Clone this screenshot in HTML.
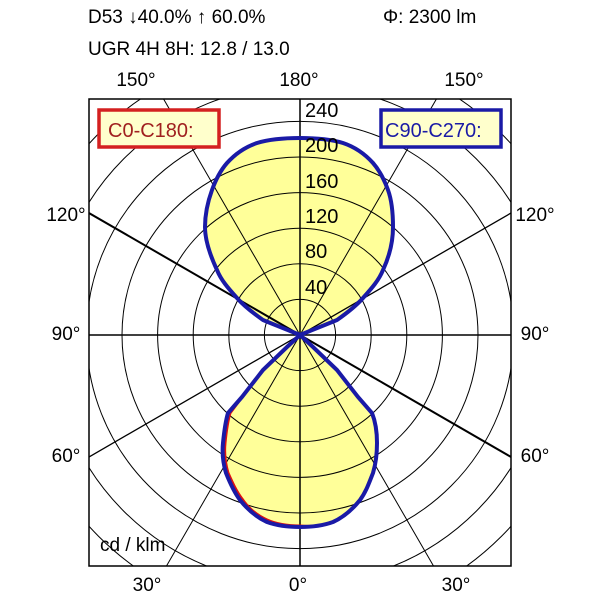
<!DOCTYPE html>
<html><head><meta charset="utf-8"><style>
html,body{margin:0;padding:0;background:#fff;width:600px;height:600px;overflow:hidden;}
svg{display:block;font-family:"Liberation Sans",sans-serif;}
</style></head><body>
<svg width="600" height="600" viewBox="0 0 600 600">
<defs><clipPath id="c"><rect x="89" y="99" width="422" height="467"/></clipPath></defs>
<text x="88" y="23" font-size="19">D53 ↓40.0% ↑ 60.0%</text>
<text x="383" y="23" font-size="19">Φ: 2300 lm</text>
<text x="88" y="55" font-size="19">UGR 4H 8H: 12.8 / 13.0</text>
<g font-size="19" text-anchor="middle">
<text x="136" y="86">150°</text><text x="299" y="86">180°</text><text x="464" y="86">150°</text>
<text x="66" y="221">120°</text><text x="535" y="221">120°</text>
<text x="66" y="340">90°</text><text x="535" y="340">90°</text>
<text x="66" y="462">60°</text><text x="535" y="462">60°</text>
<text x="147" y="591">30°</text><text x="298" y="591">0°</text><text x="456" y="591">30°</text>
</g>
<g clip-path="url(#c)">
<g transform="translate(300,335)">
<path d="M0,0 C12,-5 25,-10 37,-15 C47,-22 56,-29 63,-37 C72,-47 79,-55 83,-65 C90,-80 93,-95 93,-108 C93,-122 92,-134 88,-145 C84,-156 80,-164 73,-172 C64,-182 55,-188 43,-192 C30,-196 15,-197 0,-197 C-15,-197 -30,-196 -43,-192 C-55,-188 -64,-182 -73,-172 C-80,-164 -84,-156 -88,-145 C-92,-134 -95,-122 -95,-108 C-95,-95 -90,-80 -83,-65 C-79,-55 -72,-47 -63,-37 C-56,-29 -47,-22 -37,-15 C-25,-10 -12,-5 0,0Z" fill="#ffff99"/>
<path d="M0,0 L13,12 L37,35 L58,62 L72,78 C76,88 77,98 77,108 C77,118 76,128 73,138 C69,148 66,157 60,165 C52,175 44,182 33,187 C22,191 11,192 0,192 C-11,192 -22,191 -33,187 C-44,182 -52,175 -60,165 C-66,157 -70,148 -74,138 C-77,128 -78,118 -77,108 C-76,98 -75,88 -72,78 L-58,62 L-37,35 L-13,12Z" fill="#ffff99"/>
<g fill="none" stroke="#000" stroke-width="1">
<circle r="35.6"/><circle r="71.2"/><circle r="106.8"/><circle r="142.4"/><circle r="178"/><circle r="213.6"/><circle r="249.2"/><circle r="284.8"/><circle r="320.4"/><circle r="356"/>
<line x1="-400" y1="0" x2="400" y2="0" stroke-width="1.5"/>
<line x1="0" y1="-400" x2="0" y2="400" stroke-width="1.5"/>
<line x1="-200" y1="-346" x2="200" y2="346"/>
<line x1="200" y1="-346" x2="-200" y2="346"/>
<line x1="-346" y1="-200" x2="346" y2="200" stroke-width="2"/>
<line x1="346" y1="-200" x2="-346" y2="200" stroke-width="1.3"/>
</g>
<path d="M0,0 L13,12 L37,35 L58,62 L72,78 C76,88 77,98 77,108 C77,118 76,128 73,138 C69,148 66,157 60,165 C52,175 44,182 33,187 C22,191 11,192 0,191 C-11,191 -22,190 -33,185 C-44,180 -52,173 -58,164 C-64,156 -68,147 -72,138 C-75,128 -76,118 -75,108 C-74,98 -73,88 -70,78 L-58,62 L-37,35 L-13,12Z" fill="none" stroke="#dd1111" stroke-width="3"/>
<path d="M0,0 C12,-5 25,-10 37,-15 C47,-22 56,-29 63,-37 C72,-47 79,-55 83,-65 C90,-80 93,-95 93,-108 C93,-122 92,-134 88,-145 C84,-156 80,-164 73,-172 C64,-182 55,-188 43,-192 C30,-196 15,-197 0,-197 C-15,-197 -30,-196 -43,-192 C-55,-188 -64,-182 -73,-172 C-80,-164 -84,-156 -88,-145 C-92,-134 -95,-122 -95,-108 C-95,-95 -90,-80 -83,-65 C-79,-55 -72,-47 -63,-37 C-56,-29 -47,-22 -37,-15 C-25,-10 -12,-5 0,0Z" fill="none" stroke="#1a1aa6" stroke-width="4"/>
<path d="M0,0 L13,12 L37,35 L58,62 L72,78 C76,88 77,98 77,108 C77,118 76,128 73,138 C69,148 66,157 60,165 C52,175 44,182 33,187 C22,191 11,192 0,192 C-11,192 -22,191 -33,187 C-44,182 -52,175 -60,165 C-66,157 -70,148 -74,138 C-77,128 -78,118 -77,108 C-76,98 -75,88 -72,78 L-58,62 L-37,35 L-13,12Z" fill="none" stroke="#1a1aa6" stroke-width="4"/>
</g>
</g>
<rect x="89" y="99" width="422" height="467" fill="none" stroke="#000" stroke-width="1.5"/>
<g font-size="20">
<text x="305" y="117">240</text><text x="305" y="152">200</text><text x="305" y="188">160</text><text x="305" y="223">120</text><text x="305" y="258">80</text><text x="305" y="294">40</text>
<text x="100" y="551" font-size="19">cd / klm</text>
</g>
<rect x="99" y="110" width="120" height="37" fill="#ffffcc" stroke="#d42020" stroke-width="3.5"/>
<text x="108" y="137" font-size="20" fill="#a02020">C0-C180:</text>
<rect x="381" y="110" width="120" height="37" fill="#ffffcc" stroke="#1a1aa6" stroke-width="3.5"/>
<text x="385" y="137" font-size="20" fill="#1a1aa6">C90-C270:</text>
</svg>
</body></html>
